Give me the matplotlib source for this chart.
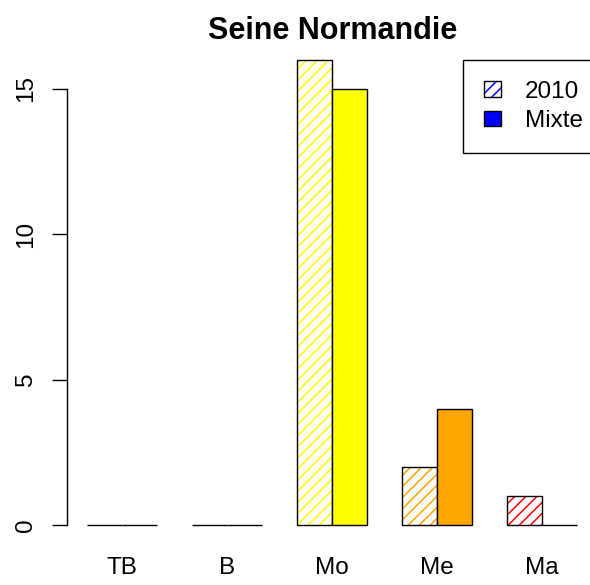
import numpy as np
import matplotlib
matplotlib.use('Agg')
import matplotlib.pyplot as plt
from matplotlib.patches import Patch

categories = ['TB', 'B', 'Mo', 'Me', 'Ma']
colors = ['blue', 'green', 'yellow', 'orange', 'red']
values_2010 = [0, 0, 16, 2, 1]
values_mixte = [0, 0, 15, 4, 0]
series_labels = ['2010', 'Mixte']

plt.rcParams['font.family'] = ['Liberation Sans', 'DejaVu Sans']
plt.rcParams['hatch.linewidth'] = 1.1
fs = 17.5

fig = plt.figure(figsize=(5.9, 5.85), dpi=100)
ax = fig.add_axes([67.4 / 590, 41.4 / 585, 529 / 590, 502.3 / 585])

# grouped bars: width 1, one unit gap between groups
n = len(categories)
left_2010 = 1 + 3 * np.arange(n)
left_mixte = left_2010 + 1

# hatched bars: stripes in the category colour, black outline on top
ax.bar(left_2010, values_2010, width=1, align='edge', color='white',
       edgecolor=colors, hatch='///', linewidth=0)
ax.bar(left_2010, values_2010, width=1, align='edge', fill=False,
       edgecolor='black', linewidth=1)
ax.bar(left_mixte, values_mixte, width=1, align='edge', color=colors,
       edgecolor='black', linewidth=1)

ax.set_xlim(0.44, 15.56)
ax.set_ylim(-0.64, 16.64)

for side in ['top', 'right', 'bottom']:
    ax.spines[side].set_visible(False)
ax.spines['left'].set_bounds(0, 15)
ax.spines['left'].set_linewidth(1)

ax.set_yticks([0, 5, 10, 15])
ax.set_yticklabels(['0', '5', '10', '15'], rotation=90, va='center',
                   fontsize=fs)
ax.tick_params(axis='y', length=10.8, width=1, pad=11)

ax.set_xticks(left_mixte)
ax.set_xticklabels(categories, fontsize=fs)
ax.tick_params(axis='x', length=0, pad=9.5)

fig.text(332.5 / 590, 1 - 31 / 585, 'Seine Normandie', ha='center',
         va='center', fontsize=22, fontweight='bold')

h_2010 = (Patch(facecolor='white', edgecolor='blue', hatch='///', linewidth=0),
          Patch(fill=False, edgecolor='black', linewidth=1))
h_mixte = Patch(facecolor='blue', edgecolor='black', linewidth=1)
leg = fig.legend([h_2010, h_mixte], series_labels, loc='upper left',
                 bbox_to_anchor=(463 / 590, 1 - 60 / 585), borderaxespad=0,
                 fontsize=fs, handlelength=0.7, handleheight=0.6,
                 handletextpad=1.0, borderpad=0.85, labelspacing=0.3,
                 fancybox=False, framealpha=1, edgecolor='black')
leg.get_frame().set_linewidth(1)

fig.savefig('out.png', dpi=100)
